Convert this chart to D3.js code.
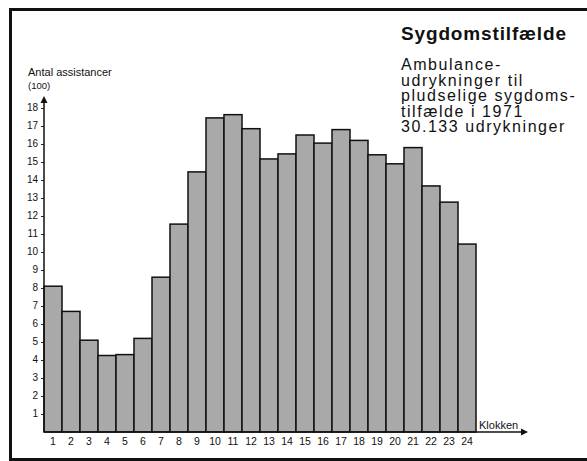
<!DOCTYPE html>
<html>
<head>
  <script src="https://d3js.org/d3.v7.min.js"></script>
  <style>
    body { margin: 0; background: #fff; }
    svg { display: block; }
  </style>
</head>
<body>
  <div id="chart"></div>
  <script>

  // hours of the day and ambulance call-outs (hundreds)
  var hours = ["1","2","3","4","5","6","7","8","9","10","11","12",
               "13","14","15","16","17","18","19","20","21","22","23","24"];
  var calls = [8.1, 6.7, 5.1, 4.25, 4.3, 5.2, 8.6, 11.55, 14.45, 17.45, 17.63, 16.85,
               15.17, 15.45, 16.5, 16.05, 16.8, 16.2, 15.4, 14.9, 15.8, 13.67, 12.77, 10.44];
  var yTicks = [1,2,3,4,5,6,7,8,9,10,11,12,13,14,15,16,17,18];

  var title = "Sygdomstilfælde";
  var subtitle = ["Ambulance-", "udrykninger til", "pludselige sygdoms-",
                  "tilfælde i 1971", "30.133 udrykninger"];
  var yTitle = ["Antal assistancer", "(100)"];
  var xTitle = "Klokken";

  var width = 587,
      height = 461,
      font = "'Liberation Sans', Arial, Helvetica, sans-serif";

  var svg = d3.select("#chart").append("svg")
    .attr("width", width)
    .attr("height", height)
    .style("font-family", font);

  svg.append("rect")
    .attr("width", width)
    .attr("height", height)
    .attr("fill", "#fff");

  // frame (open on the right side)
  svg.append("path")
    .attr("d", "M" + width + ",9.5H10.5V459.5H" + width)
    .attr("fill", "none")
    .attr("stroke", "#111")
    .attr("stroke-width", 3);

  var x = d3.scaleBand()
    .domain(hours)
    .range([44, 476])
    .padding(0);

  var y = d3.scaleLinear()
    .domain([0, 18])
    .range([432, 108]);

  // bars
  svg.append("g").selectAll("rect")
    .data(calls)
    .enter()
    .append("rect")
    .attr("x", function(d, i) { return x(hours[i]); })
    .attr("y", function(d) { return y(d); })
    .attr("width", x.bandwidth())
    .attr("height", function(d) { return y(0) - y(d); })
    .attr("fill", "#a9a9a9")
    .attr("stroke", "#111")
    .attr("stroke-width", 1.5);

  // y axis
  var yAxis = svg.append("g")
    .attr("transform", "translate(44,0)")
    .call(d3.axisLeft(y).tickValues(yTicks).tickSize(3).tickPadding(3));
  yAxis.select(".domain").remove();
  yAxis.selectAll(".tick line").attr("stroke", "#222").attr("stroke-width", 1);
  yAxis.selectAll(".tick text")
    .attr("dy", "0.2em")
    .style("font-family", font)
    .style("font-size", "10px")
    .attr("fill", "#111");

  svg.append("line")
    .attr("x1", 44).attr("x2", 44)
    .attr("y1", y(0)).attr("y2", 102)
    .attr("stroke", "#111")
    .attr("stroke-width", 1.5);
  svg.append("path")
    .attr("d", "M44,96L40.5,103L47.5,103Z")
    .attr("fill", "#111");

  // x axis
  var xAxis = svg.append("g")
    .attr("transform", "translate(0," + y(0) + ")")
    .call(d3.axisBottom(x).tickSize(0).tickPadding(6));
  xAxis.select(".domain").remove();
  xAxis.selectAll(".tick text")
    .style("font-family", font)
    .style("font-size", "10.5px")
    .attr("fill", "#111");

  svg.append("line")
    .attr("x1", 44).attr("x2", 522)
    .attr("y1", y(0)).attr("y2", y(0))
    .attr("stroke", "#111")
    .attr("stroke-width", 1.5);
  svg.append("path")
    .attr("d", "M528," + y(0) + "L521," + (y(0) - 3.5) + "L521," + (y(0) + 3.5) + "Z")
    .attr("fill", "#111");

  svg.append("text")
    .attr("x", 479)
    .attr("y", 429)
    .style("font-size", "11px")
    .attr("fill", "#111")
    .text(xTitle);

  // y axis title
  svg.append("g").selectAll("text")
    .data(yTitle)
    .enter()
    .append("text")
    .attr("x", 28)
    .attr("y", function(d, i) { return 76 + i * 13; })
    .style("font-size", function(d, i) { return i === 0 ? "11px" : "9.5px"; })
    .attr("fill", "#111")
    .text(function(d) { return d; });

  // title block
  svg.append("text")
    .attr("x", 401)
    .attr("y", 40)
    .style("font-size", "19px")
    .style("font-weight", "bold")
    .style("letter-spacing", "0.85px")
    .attr("fill", "#111")
    .text(title);

  svg.append("g").selectAll("text")
    .data(subtitle)
    .enter()
    .append("text")
    .attr("x", 401)
    .attr("y", function(d, i) { return 70 + i * 15.6; })
    .style("font-size", "16px")
    .style("letter-spacing", "1.55px")
    .attr("fill", "#111")
    .text(function(d) { return d; });

  </script>
</body>
</html>
